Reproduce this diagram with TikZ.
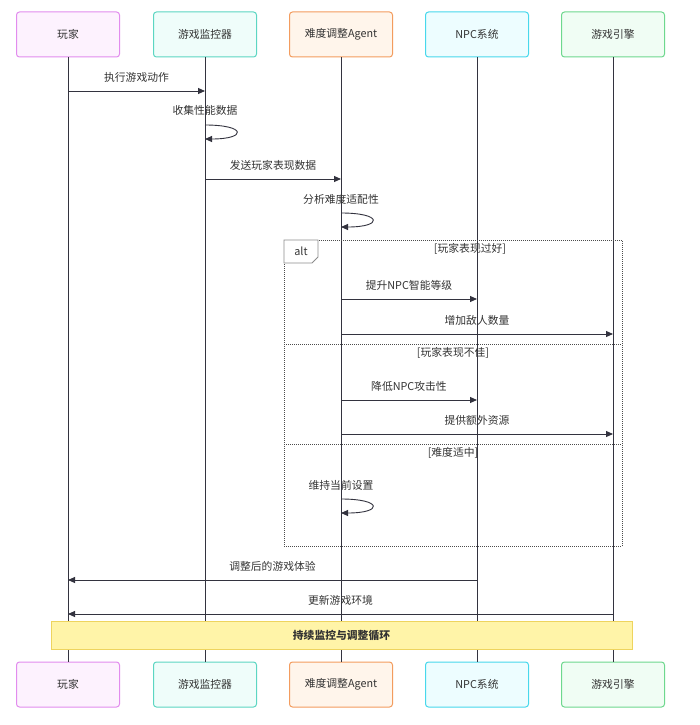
\documentclass[tikz,border=0pt]{standalone}
\usepackage{fontspec}
\setmainfont{Noto Sans CJK SC}
\usetikzlibrary{arrows.meta}
\definecolor{txt}{HTML}{333333}
\definecolor{ink}{HTML}{33333F}
\definecolor{pinkb}{HTML}{E28CEE}
\definecolor{pinkf}{HTML}{FDF2FE}
\definecolor{tealb}{HTML}{5CD6C2}
\definecolor{tealf}{HTML}{EFFDFA}
\definecolor{orangeb}{HTML}{F39C5E}
\definecolor{orangef}{HTML}{FFF5EB}
\definecolor{cyanb}{HTML}{48D8EC}
\definecolor{cyanf}{HTML}{EDFDFF}
\definecolor{greenb}{HTML}{6ED88E}
\definecolor{greenf}{HTML}{F0FDF4}
\definecolor{noteb}{HTML}{EED45E}
\definecolor{notef}{HTML}{FFF4A8}
\begin{document}
\begin{tikzpicture}[x=1pt,y=-1pt,
  actor/.style={draw, rounded corners=3pt, line width=1pt, minimum width=103pt,
    minimum height=45pt, font=\fontsize{10.8}{12}\selectfont, text=txt},
  life/.style={draw=ink, line width=0.9pt},
  msg/.style={draw=ink, line width=0.9pt, -{Triangle[length=7pt,width=6pt]}},
  lbl/.style={font=\fontsize{10.8}{12}\selectfont, text=txt},
  frame/.style={draw=black!70, dash pattern=on 1pt off 1pt, line width=0.8pt}]
  \fill[white] (0,0) rectangle (700,725);
  \useasboundingbox (0,0) rectangle (700,725);

  \node[actor, draw=pinkb, fill=pinkf] (player) at (68,34.5) {玩家};
  \node[actor, draw=tealb, fill=tealf] (monitor) at (205,34.5) {游戏监控器};
  \node[actor, draw=orangeb, fill=orangef] (agent) at (341,34.5) {难度调整Agent};
  \node[actor, draw=cyanb, fill=cyanf] (npc) at (477,34.5) {NPC系统};
  \node[actor, draw=greenb, fill=greenf] (engine) at (613,34.5) {游戏引擎};
  \node[actor, draw=pinkb, fill=pinkf] (playerB) at (68,684.5) {玩家};
  \node[actor, draw=tealb, fill=tealf] (monitorB) at (205,684.5) {游戏监控器};
  \node[actor, draw=orangeb, fill=orangef] (agentB) at (341,684.5) {难度调整Agent};
  \node[actor, draw=cyanb, fill=cyanf] (npcB) at (477,684.5) {NPC系统};
  \node[actor, draw=greenb, fill=greenf] (engineB) at (613,684.5) {游戏引擎};

  \draw[life] (player) -- (playerB);
  \draw[life] (monitor) -- (monitorB);
  \draw[life] (agent) -- (agentB);
  \draw[life] (npc) -- (npcB);
  \draw[life] (engine) -- (engineB);

  \draw[msg] (player |- 0,91) -- node[lbl, yshift=14pt] {执行游戏动作} (monitor |- 0,91);
  \node[lbl] (collect) at (monitor |- 0,110) {收集性能数据};
  \draw[msg] (monitor |- 0,125) .. controls +(42,0) and +(42,0) .. (monitor |- 0,139);
  \draw[msg] (monitor |- 0,179) -- node[lbl, yshift=14pt] {发送玩家表现数据} (agent |- 0,179);
  \node[lbl] (analyse) at (agent |- 0,199) {分析难度适配性};
  \draw[msg] (agent |- 0,213) .. controls +(42,0) and +(42,0) .. (agent |- 0,227);

  \draw[frame] (284,240) rectangle (622,546);
  \draw[frame] (284,344) -- (622,344);
  \draw[frame] (284,444) -- (622,444);
  \draw[draw=black!45, fill=white, line width=0.8pt]
    (284,240) -- (318,240) -- (318,257) -- (312,263) -- (284,263) -- cycle;
  \node[lbl] (alt) at (301,251.5) {alt};
  \node[lbl] (good) at (470,249) {[玩家表现过好]};
  \node[lbl] (bad) at (453,353) {[玩家表现不佳]};
  \node[lbl] (fair) at (453,453) {[难度适中]};

  \draw[msg] (agent |- 0,299) -- node[lbl, yshift=14pt] {提升NPC智能等级} (npc |- 0,299);
  \draw[msg] (agent |- 0,334) -- node[lbl, yshift=14pt] {增加敌人数量} (engine |- 0,334);
  \draw[msg] (agent |- 0,400) -- node[lbl, yshift=14pt] {降低NPC攻击性} (npc |- 0,400);
  \draw[msg] (agent |- 0,434) -- node[lbl, yshift=14pt] {提供额外资源} (engine |- 0,434);
  \node[lbl] (keep) at (agent |- 0,485) {维持当前设置};
  \draw[msg] (agent |- 0,499) .. controls +(42,0) and +(42,0) .. (agent |- 0,513);

  \draw[msg] (npc |- 0,580) -- node[lbl, yshift=14pt] {调整后的游戏体验} (player |- 0,580);
  \draw[msg] (engine |- 0,614) -- node[lbl, yshift=14pt] {更新游戏环境} (player |- 0,614);

  \node[draw=noteb, fill=notef, line width=1pt, minimum width=581pt, minimum height=28pt,
    font=\fontsize{10.8}{12}\selectfont\bfseries, text=txt] (cycle) at (341.5,635) {持续监控与调整循环};
\end{tikzpicture}
\end{document}
